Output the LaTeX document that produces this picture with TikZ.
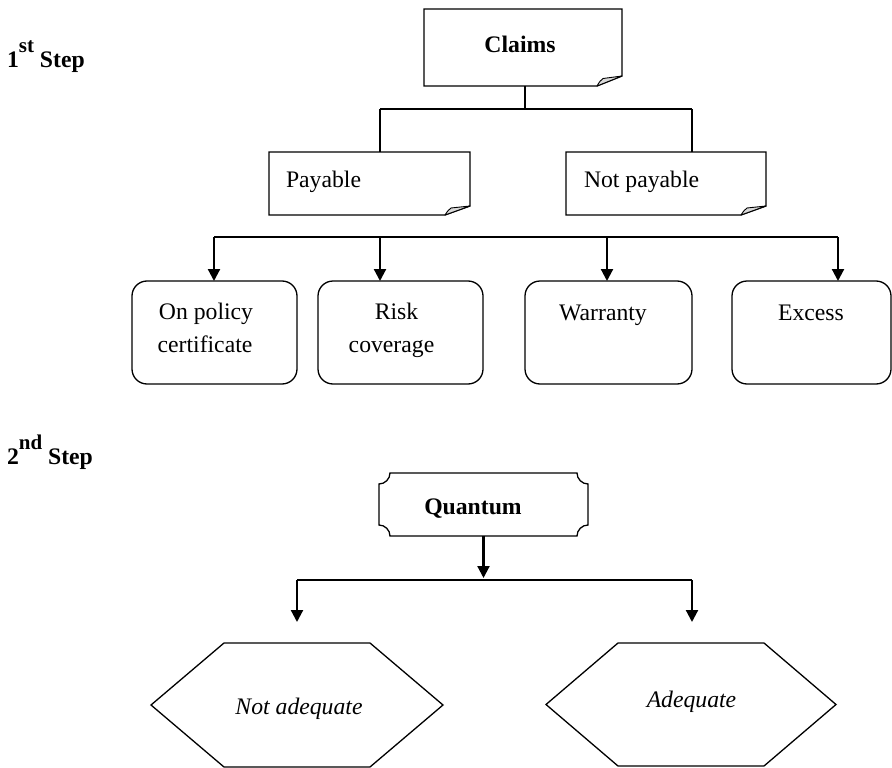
\documentclass[tikz,border=0pt]{standalone}
\usepackage{fontspec}
\setmainfont{Liberation Serif}
\usetikzlibrary{arrows.meta}
\begin{document}
\begin{tikzpicture}[x=1pt,y=-1pt,
  every node/.style={inner sep=0pt,outer sep=0pt},
  txt/.style={font=\fontsize{23.7}{33}\selectfont, anchor=base},
  btxt/.style={font=\fontsize{23.7}{33}\selectfont\bfseries, anchor=base},
  itxt/.style={font=\fontsize{23.7}{33}\selectfont\itshape, anchor=base},
  holder/.style={draw=none},
  outline/.style={draw=black, line width=1.3pt, line join=miter},
  flap/.style={fill=gray!30, draw=black, line width=0.9pt, line join=round},
  rbox/.style={draw=black, line width=1.3pt, rounded corners=15pt, minimum height=103pt},
  conn/.style={draw=black, line width=1.1pt},
  arr/.style={draw=black, line width=2.2pt, -{Triangle[width=12pt,length=12pt]}}
]
\useasboundingbox (0,0) rectangle (892,768);

% step labels
\node[btxt, anchor=base west] (step1) at (7,68) {1\raisebox{15pt}{\fontsize{21}{21}\selectfont st} Step};
\node[btxt, anchor=base west] (step2) at (7,464) {2\raisebox{15pt}{\fontsize{21}{21}\selectfont nd} Step};

% Claims note
\node[holder, minimum width=198pt, minimum height=77pt] (claims) at (523,47.5) {};
\draw[outline] (claims.north west) -- (claims.north east) -- ([yshift=10pt]claims.south east)
  -- ([xshift=-25pt]claims.south east) -- (claims.south west) -- cycle;
\filldraw[flap] ([xshift=-25pt]claims.south east) .. controls ([xshift=-22pt,yshift=5pt]claims.south east) .. ([xshift=-19pt,yshift=7.5pt]claims.south east) -- ([yshift=10pt]claims.south east) -- cycle;
\node[btxt] (claimst) at (520,53) {Claims};

% Payable note
\node[holder, minimum width=201pt, minimum height=63pt] (pay) at (369.5,183.5) {};
\draw[outline] (pay.north west) -- (pay.north east) -- ([yshift=9pt]pay.south east)
  -- ([xshift=-25pt]pay.south east) -- (pay.south west) -- cycle;
\filldraw[flap] ([xshift=-25pt]pay.south east) .. controls ([xshift=-22pt,yshift=4.5pt]pay.south east) .. ([xshift=-19pt,yshift=7pt]pay.south east) -- ([yshift=9pt]pay.south east) -- cycle;
\node[txt, anchor=base west] (payt) at (286,187) {Payable};

% Not payable note
\node[holder, minimum width=200pt, minimum height=63pt] (npay) at (666,183.5) {};
\draw[outline] (npay.north west) -- (npay.north east) -- ([yshift=9pt]npay.south east)
  -- ([xshift=-25pt]npay.south east) -- (npay.south west) -- cycle;
\filldraw[flap] ([xshift=-25pt]npay.south east) .. controls ([xshift=-22pt,yshift=4.5pt]npay.south east) .. ([xshift=-19pt,yshift=7pt]npay.south east) -- ([yshift=9pt]npay.south east) -- cycle;
\node[txt, anchor=base west] (npayt) at (584,187) {Not payable};

% Claims connectors
\coordinate (cj) at (525,109);
\coordinate (pj) at (380,109);
\coordinate (nj) at (692,109);
\draw[conn] (cj |- claims.south) -- (cj);
\draw[conn] (pj) -- (nj);
\draw[conn] (pj) -- (pj |- pay.north);
\draw[conn] (nj) -- (nj |- npay.north);

% second row boxes
\node[rbox, minimum width=165pt] (b1) at (214.5,332.5) {};
\node[rbox, minimum width=165pt] (b2) at (400.5,332.5) {};
\node[rbox, minimum width=167pt] (b3) at (608.5,332.5) {};
\node[rbox, minimum width=159pt] (b4) at (811.5,332.5) {};
\node[txt] (b1a) at (206,319) {On policy};
\node[txt] (b1b) at (205,352) {certificate};
\node[txt] (b2a) at (396.5,319) {Risk};
\node[txt] (b2b) at (391.5,352) {coverage};
\node[txt] (b3a) at (603,320.5) {Warranty};
\node[txt] (b4a) at (811,320) {Excess};

\coordinate (t1) at (214,237);
\coordinate (t2) at (380,237);
\coordinate (t3) at (607,237);
\coordinate (t4) at (838,237);
\draw[conn, line width=1.4pt] (t1) -- (t4);
\draw[arr] (t1) -- (t1 |- b1.north);
\draw[arr] (t2) -- (t2 |- b2.north);
\draw[arr] (t3) -- (t3 |- b3.north);
\draw[arr] (t4) -- (t4 |- b4.north);

% Quantum plaque
\node[holder, minimum width=209pt, minimum height=63pt] (quantum) at (483.5,504.5) {};
\draw[outline]
  ([xshift=11pt]quantum.north west) -- ([xshift=-11pt]quantum.north east)
  .. controls ([xshift=-11pt,yshift=-6pt]quantum.north east) and ([xshift=-6pt,yshift=-11pt]quantum.north east) .. ([yshift=-11pt]quantum.north east)
  -- ([yshift=11pt]quantum.south east)
  .. controls ([xshift=-6pt,yshift=11pt]quantum.south east) and ([xshift=-11pt,yshift=6pt]quantum.south east) .. ([xshift=-11pt]quantum.south east)
  -- ([xshift=11pt]quantum.south west)
  .. controls ([xshift=11pt,yshift=6pt]quantum.south west) and ([xshift=6pt,yshift=11pt]quantum.south west) .. ([yshift=11pt]quantum.south west)
  -- ([yshift=-11pt]quantum.north west)
  .. controls ([xshift=6pt,yshift=-11pt]quantum.north west) and ([xshift=11pt,yshift=-6pt]quantum.north west) .. ([xshift=11pt]quantum.north west)
  -- cycle;
\node[btxt] (quantumt) at (473,514) {Quantum};

% hexagons
\node[holder, minimum width=292pt, minimum height=124pt] (na) at (297,705) {};
\draw[outline] (na.west) -- ([xshift=73pt]na.north west) -- ([xshift=-73pt]na.north east) -- (na.east)
  -- ([xshift=-73pt]na.south east) -- ([xshift=73pt]na.south west) -- cycle;
\node[itxt] (nat) at (299,714) {Not adequate};

\node[holder, minimum width=290pt, minimum height=123pt] (ad) at (691,704.5) {};
\draw[outline] (ad.west) -- ([xshift=72pt]ad.north west) -- ([xshift=-72pt]ad.north east) -- (ad.east)
  -- ([xshift=-72pt]ad.south east) -- ([xshift=72pt]ad.south west) -- cycle;
\node[itxt] (adt) at (691.5,707) {Adequate};

% quantum connectors
\coordinate (qj) at (483.5,578);
\coordinate (ql) at (297,580);
\coordinate (qr) at (692,580);
\draw[arr] (quantum.south) -- (qj);
\draw[conn] (ql) -- (qr);
\draw[arr] (ql) -- ([yshift=21pt]na.north);
\draw[arr] (qr) -- (qr |- 0,622);
\end{tikzpicture}
\end{document}
